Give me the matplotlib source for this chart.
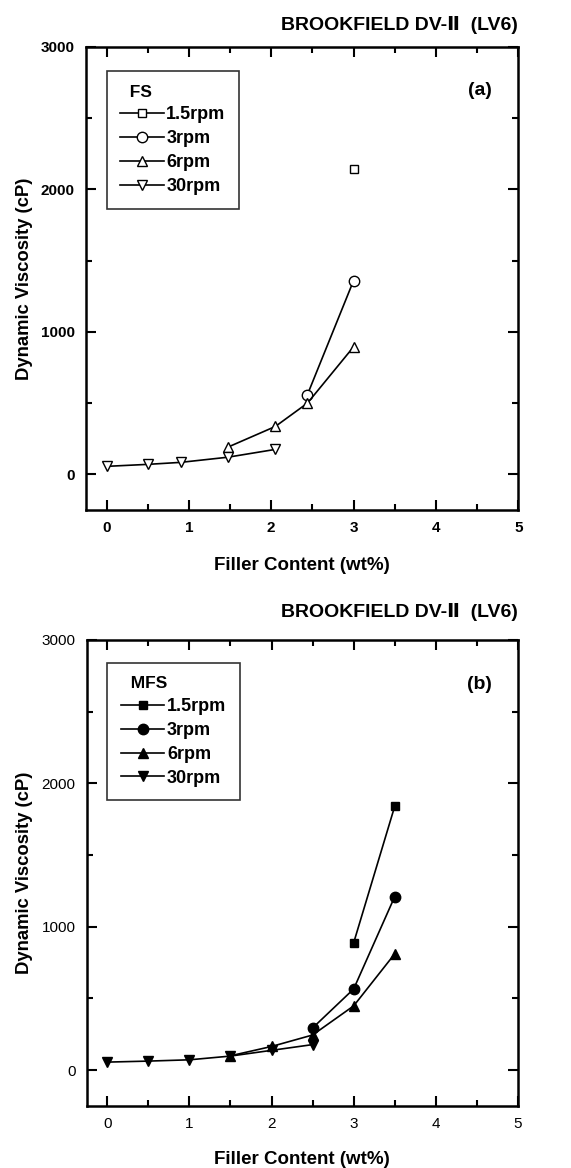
import numpy as np
import matplotlib.pyplot as plt
from matplotlib.ticker import MultipleLocator

plt.rcParams['font.family'] = ['Liberation Sans', 'DejaVu Sans']

# (a) FS
fs_15_x = [3.0]
fs_15_y = [2140]
fs_3_x = [2.44, 3.0]
fs_3_y = [560, 1360]
fs_6_x = [1.47, 2.05, 2.44, 3.0]
fs_6_y = [190, 336, 500, 895]
fs_30_x = [0.0, 0.5, 0.9, 1.47, 2.05]
fs_30_y = [56, 70, 84, 120, 175]

# (b) MFS
mfs_15_x = [3.0, 3.5]
mfs_15_y = [888, 1840]
mfs_3_x = [2.5, 3.0, 3.5]
mfs_3_y = [294, 566, 1210]
mfs_6_x = [1.5, 2.0, 2.5, 3.0, 3.5]
mfs_6_y = [100, 165, 245, 448, 811]
mfs_30_x = [0.0, 0.5, 1.0, 1.5, 2.0, 2.5]
mfs_30_y = [56, 63, 72, 98, 138, 178]

labels = ['1.5rpm', '3rpm', '6rpm', '30rpm']
markers = ['s', 'o', '^', 'v']

fig = plt.figure(figsize=(5.71, 11.68), dpi=100)
ax1 = fig.add_axes([0.1506, 0.5634, 0.757, 0.3964])
ax2 = fig.add_axes([0.152, 0.0531, 0.755, 0.399])


def draw(ax, series, filled, name, tag, bold_ticks, leg_y, title_y, xpad):
    for (x, y), lab, m in zip(series, labels, markers):
        ax.plot(x, y, color='black', lw=1.2, marker=m, ms=7.5 if m != 's' else 6,
                mfc='black' if filled else 'white', mec='black', mew=1.0, label=lab)
    ax.set_xlim(-0.25, 5)
    ax.set_ylim(-250, 3000)
    ax.xaxis.set_major_locator(MultipleLocator(1))
    ax.xaxis.set_minor_locator(MultipleLocator(0.5))
    ax.yaxis.set_major_locator(MultipleLocator(1000))
    ax.yaxis.set_minor_locator(MultipleLocator(500))
    ax.tick_params(which='both', direction='in', top=True, right=True, width=1.5)
    ax.tick_params(which='major', length=7, labelsize=11, pad=8)
    ax.tick_params(which='minor', length=4)
    for s in ax.spines.values():
        s.set_linewidth(1.8)
    for t in ax.get_xticklabels() + ax.get_yticklabels():
        t.set_fontweight('bold' if bold_ticks else 'normal')
    ax.set_xlabel('Filler Content (wt%)', fontsize=13.5, fontweight='bold', labelpad=xpad)
    ax.set_ylabel('Dynamic Viscosity (cP)', fontsize=13.3, fontweight='bold', labelpad=6)
    leg = ax.legend(loc='upper left', bbox_to_anchor=(0.048, leg_y), title='  ' + name,
                    fontsize=13, frameon=True, fancybox=False, edgecolor='black',
                    handlelength=2.4, handletextpad=0.15, labelspacing=0.38,
                    borderpad=0.75, borderaxespad=0, alignment='left')
    leg.get_frame().set_linewidth(1.2)
    for t in leg.get_texts():
        t.set_fontweight('bold')
    leg.get_title().set_fontweight('bold')
    leg.get_title().set_fontsize(12.5)
    ax.text(0.94, 0.905, tag, transform=ax.transAxes, ha='right', va='center',
            fontsize=14, fontweight='bold')
    ax.text(1.0, title_y, 'BROOKFIELD DV-Ⅱ  (LV6)', transform=ax.transAxes,
            ha='right', va='center', fontsize=14, fontweight='bold')


draw(ax1, [(fs_15_x, fs_15_y), (fs_3_x, fs_3_y), (fs_6_x, fs_6_y), (fs_30_x, fs_30_y)],
     False, 'FS', '(a)', True, 0.948, 1.0475, 16)
draw(ax2, [(mfs_15_x, mfs_15_y), (mfs_3_x, mfs_3_y), (mfs_6_x, mfs_6_y), (mfs_30_x, mfs_30_y)],
     True, 'MFS', '(b)', False, 0.951, 1.060, 14)

fig.savefig('out.png', dpi=100, facecolor='white')
